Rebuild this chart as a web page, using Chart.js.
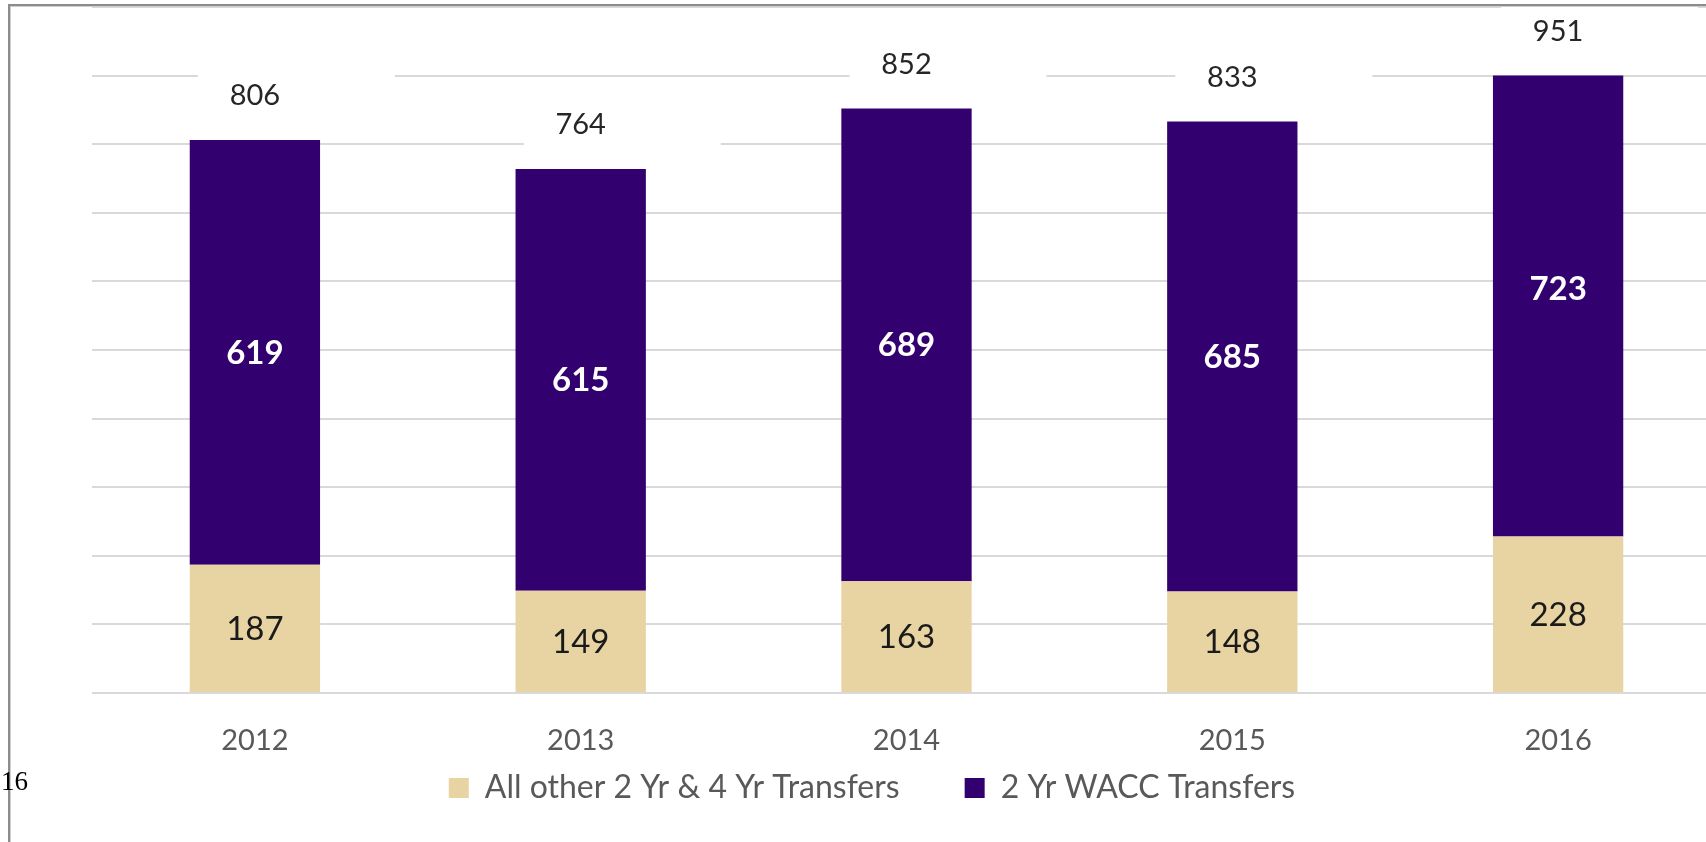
<!DOCTYPE html>
<html>
<head>
<meta charset="utf-8">
<script src="https://cdn.jsdelivr.net/npm/chart.js@4.4.1/dist/chart.umd.min.js"></script>
<style>
  html, body { margin: 0; padding: 0; background: #fff; overflow: hidden; }
  body { width: 1706px; height: 842px; position: relative; }
  #wrap { position: absolute; left: 0; top: 0; width: 1744px; height: 842px; }
  #frame {
    position: absolute; left: 8px; top: 4px; right: -60px; bottom: -60px;
    border-left: 2px solid #8c8c8c; border-top: 2px solid #8c8c8c;
    box-shadow: inset 1px 1px 0 #cfcfcf; pointer-events: none;
  }
  #page { position: absolute; left: 1px; top: 766px; font: 27px "Liberation Serif", "Times New Roman", serif; color: #000; }
</style>
</head>
<body>
<div id="wrap"><canvas id="chart"></canvas></div>
<div id="frame"></div>
<div id="page">16</div>
<script>
const years = ["2012", "2013", "2014", "2015", "2016"];
const otherTransfers = [187, 149, 163, 148, 228];
const waccTransfers = [619, 615, 689, 685, 723];
const seriesNames = ["All other 2 Yr & 4 Yr Transfers", "2 Yr WACC Transfers"];

const axisMax = 1000;
const axisStep = 100;
const plotCeiling = 900; // source chart cuts the bars off at the 900 gridline

const totals = years.map((y, i) => otherTransfers[i] + waccTransfers[i]);

const FONT = "Lato, 'Open Sans', sans-serif";

// value labels: in the segments and the totals on top (with white boxes like the original)
const barLabels = {
  id: "barLabels",
  beforeDatasetsDraw(chart) {
    const { ctx, chartArea, scales } = chart;
    const top = scales.y.getPixelForValue(plotCeiling);
    ctx.save();
    ctx.beginPath();
    ctx.rect(chartArea.left, top, chartArea.width, chartArea.bottom - top + 2);
    ctx.clip();
  },
  afterDatasetsDraw(chart) {
    const { ctx, scales } = chart;
    ctx.restore();

    ctx.save();
    ctx.textAlign = "center";
    ctx.textBaseline = "middle";
    chart.data.datasets.forEach((ds, di) => {
      const meta = chart.getDatasetMeta(di);
      meta.data.forEach((bar, i) => {
        ctx.font = di === 1 ? "bold 33px " + FONT : "33px " + FONT;
        ctx.fillStyle = di === 1 ? "#ffffff" : "#1a1a1a";
        ctx.fillText(String(ds.data[i]), bar.x, (bar.y + bar.base) / 2 + 1);
      });
    });

    const ceilingPx = scales.y.getPixelForValue(plotCeiling);
    totals.forEach((t, i) => {
      const x = scales.x.getPixelForValue(i);
      const barTop = Math.max(scales.y.getPixelForValue(t), ceilingPx);
      const cy = barTop - 44;
      const boxTop = cy - 40;
      const boxBottom = Math.min(cy + 30, barTop - 2);
      ctx.fillStyle = "#ffffff";
      ctx.fillRect(x - 57, boxTop, 197, boxBottom - boxTop);
      ctx.font = "29px " + FONT;
      ctx.fillStyle = "#262626";
      ctx.fillText(String(t), x, cy);
    });

    // category labels under the axis (drawn here so the legend can keep its wide spacing)
    ctx.font = "29px " + FONT;
    ctx.fillStyle = "#595959";
    years.forEach((label, i) => {
      ctx.fillText(label, scales.x.getPixelForValue(i), scales.x.top + 48);
    });
    ctx.restore();
  }
};

const ctx = document.getElementById("chart").getContext("2d");
new Chart(ctx, {
  type: "bar",
  data: {
    labels: years,
    datasets: [
      {
        label: seriesNames[0],
        data: otherTransfers,
        backgroundColor: "#E8D3A2",
        stack: "s"
      },
      {
        label: seriesNames[1],
        data: waccTransfers,
        backgroundColor: "#33006F",
        stack: "s"
      }
    ]
  },
  options: {
    responsive: true,
    maintainAspectRatio: false,
    animation: false,
    layout: { padding: { top: 7, bottom: 28, left: 0, right: 0 } },
    datasets: { bar: { categoryPercentage: 1, barPercentage: 0.4 } },
    scales: {
      x: {
        stacked: true,
        grid: { display: false, drawTicks: false },
        border: { display: false },
        ticks: { display: false },
        afterFit: s => { s.height = 14; }
      },
      y: {
        stacked: true,
        min: 0,
        max: axisMax,
        ticks: { display: false, stepSize: axisStep },
        grid: { color: "#d9d9d9", lineWidth: 2, drawTicks: false },
        border: { display: false },
        afterFit: s => { s.width = 92; }
      },
      yRight: {
        position: "right",
        grid: { display: false, drawTicks: false },
        border: { display: false },
        ticks: { display: false },
        afterFit: s => { s.width = 23; }
      }
    },
    plugins: {
      legend: {
        position: "bottom",
        labels: {
          color: "#595959",
          font: { family: FONT, size: 32 },
          boxWidth: 20,
          boxHeight: 20,
          padding: 65
        }
      },
      tooltip: { enabled: false }
    }
  },
  plugins: [barLabels]
});
</script>
</body>
</html>
